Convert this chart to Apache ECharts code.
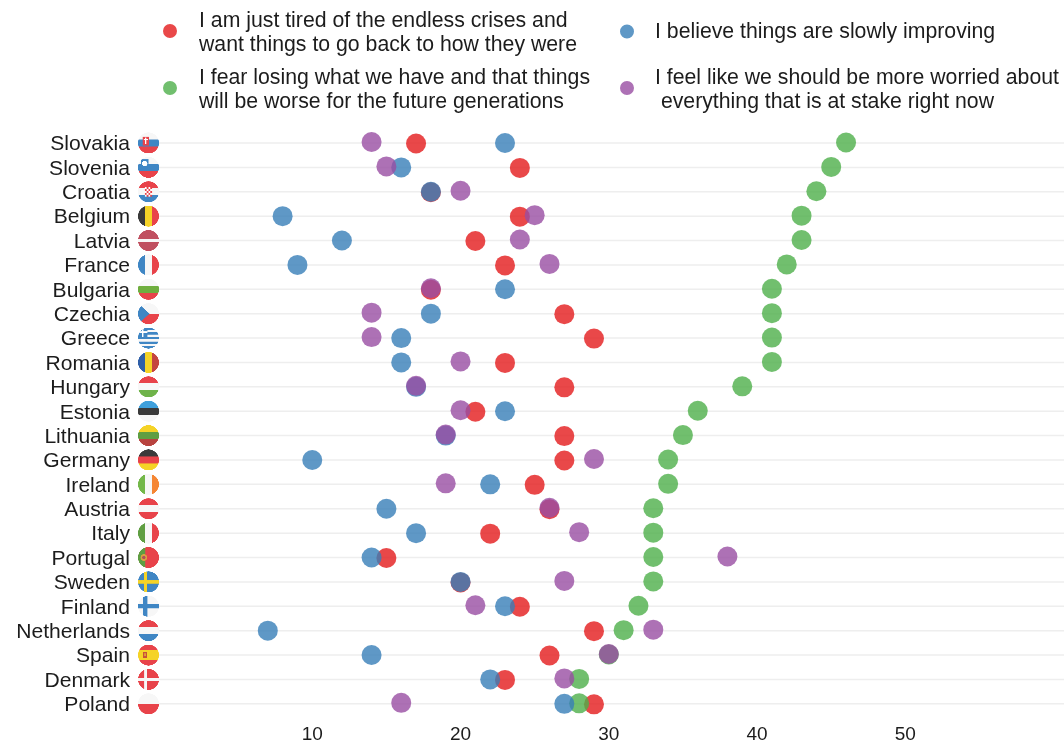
<!DOCTYPE html>
<html><head><meta charset="utf-8">
<style>html,body{margin:0;padding:0;background:#fff}#c{width:1064px;height:744px}</style>
<script src="https://cdn.jsdelivr.net/npm/echarts@6/dist/echarts.min.js"></script>
</head><body><div id="c"></div>
<script>
const countries = ['Slovakia','Slovenia','Croatia','Belgium','Latvia','France','Bulgaria','Czechia','Greece','Romania','Hungary','Estonia','Lithuania','Germany','Ireland','Austria','Italy','Portugal','Sweden','Finland','Netherlands','Spain','Denmark','Poland'];
const tired   = [17,24,18,24,21,23,18,27,29,23,27,21,27,27,25,26,22,15,20,24,29,26,23,29];
const improving=[23,16,18,8,12,9,23,18,16,16,17,23,19,10,22,15,17,14,20,23,7,14,22,27];
const fear    = [46,45,44,43,43,42,41,41,41,41,39,36,35,34,34,33,33,33,33,32,31,30,28,28];
const worried = [14,15,20,25,24,26,18,14,14,20,17,20,19,29,19,26,28,38,27,21,33,30,27,16];
const xTicks = [10,20,30,40,50];
const legendNames = [
 'I am just tired of the endless crises and\nwant things to go back to how they were',
 'I believe things are slowly improving',
 'I fear losing what we have and that things\nwill be worse for the future generations',
 'I feel like we should be more worried about\n everything that is at stake right now'
];
const RED='#e8434a',BLUE='#4a8fc6',GREEN='#55b84f',PURPLE='#a05bb0',WHITE='#f7f7f7',YEL='#f5d327',DARK='#3a3a3a',ORG='#f58634',DGREEN='#5f9e42',MAROON='#c05060',NAVY='#2f5fa8';
const h=(...c)=>(x,S)=>c.forEach((k,i)=>{x.fillStyle=k;x.fillRect(0,i*S/c.length,S,S/c.length+1)});
const v=(...c)=>(x,S)=>c.forEach((k,i)=>{x.fillStyle=k;x.fillRect(i*S/c.length,0,S/c.length+1,S)});
const flagPainters = {
 Slovakia:(x,S)=>{h(WHITE,'#3f86c4',RED)(x,S);x.fillStyle=RED;x.fillRect(S*.22,S*.2,S*.3,S*.42);x.fillStyle='#fff';x.fillRect(S*.34,S*.24,S*.06,S*.3);x.fillRect(S*.27,S*.32,S*.2,S*.05)},
 Slovenia:(x,S)=>{h(WHITE,'#3f86c4',RED)(x,S);x.fillStyle='#3f86c4';x.fillRect(S*.15,S*.12,S*.35,S*.35);x.fillStyle='#fff';x.beginPath();x.arc(S*.32,S*.32,S*.13,0,7);x.fill()},
 Croatia:(x,S)=>{h(RED,WHITE,'#3f86c4')(x,S);for(let i=0;i<4;i++)for(let j=0;j<5;j++){x.fillStyle=(i+j)%2?RED:'#fff';x.fillRect(S*(.32+i*.09),S*(.28+j*.09),S*.09,S*.09)}},
 Belgium:v(DARK,YEL,RED),
 Latvia:(x,S)=>{x.fillStyle=MAROON;x.fillRect(0,0,S,S);x.fillStyle=WHITE;x.fillRect(0,S*.44,S,S*.14)},
 France:v('#3f86c4',WHITE,RED),
 Bulgaria:h(WHITE,'#6fae3f',RED),
 Czechia:(x,S)=>{h(WHITE,RED)(x,S);x.fillStyle='#3f86c4';x.beginPath();x.moveTo(0,0);x.lineTo(S*.55,S*.5);x.lineTo(0,S);x.fill()},
 Greece:(x,S)=>{for(let i=0;i<9;i++){x.fillStyle=i%2?WHITE:'#3f86c4';x.fillRect(0,i*S/9,S,S/9+1)}x.fillStyle='#3f86c4';x.fillRect(0,0,S*.45,S*.45);x.fillStyle='#fff';x.fillRect(S*.18,0,S*.08,S*.45);x.fillRect(0,S*.18,S*.45,S*.08)},
 Romania:v(NAVY,YEL,'#c4453f'),
 Hungary:h(RED,WHITE,'#6fb34a'),
 Estonia:h('#3fa0dc',DARK,WHITE),
 Lithuania:h(YEL,DGREEN,'#b8433f'),
 Germany:h(DARK,RED,YEL),
 Ireland:v('#74b84a',WHITE,ORG),
 Austria:h(RED,WHITE,RED),
 Italy:v(DGREEN,WHITE,RED),
 Portugal:(x,S)=>{x.fillStyle=RED;x.fillRect(0,0,S,S);x.fillStyle=DGREEN;x.fillRect(0,0,S*.35,S);x.fillStyle='#d8a040';x.beginPath();x.arc(S*.28,S*.5,S*.16,0,7);x.fill();x.fillStyle='#b0505a';x.beginPath();x.arc(S*.28,S*.5,S*.08,0,7);x.fill()},
 Sweden:(x,S)=>{x.fillStyle='#3f86c4';x.fillRect(0,0,S,S);x.fillStyle=YEL;x.fillRect(S*.28,0,S*.16,S);x.fillRect(0,S*.42,S,S*.16)},
 Finland:(x,S)=>{x.fillStyle=WHITE;x.fillRect(0,0,S,S);x.fillStyle='#3f86c4';x.fillRect(S*.25,0,S*.2,S);x.fillRect(0,S*.4,S,S*.2)},
 Netherlands:h(RED,WHITE,'#3f86c4'),
 Spain:(x,S)=>{h(RED,YEL,YEL,RED)(x,S);x.fillStyle='#c8503a';x.fillRect(S*.24,S*.36,S*.2,S*.28);x.fillStyle='#e0a030';x.fillRect(S*.3,S*.42,S*.08,S*.14)},
 Denmark:(x,S)=>{x.fillStyle=RED;x.fillRect(0,0,S,S);x.fillStyle=WHITE;x.fillRect(S*.3,0,S*.13,S);x.fillRect(0,S*.44,S,S*.13)},
 Poland:h(WHITE,RED)
};
const flagCanvas = {};
countries.forEach(n=>{
 const S=84,cv=document.createElement('canvas');cv.width=cv.height=S;
 const x=cv.getContext('2d');x.beginPath();x.arc(S/2,S/2,S/2,0,7);x.clip();
 flagPainters[n](x,S);flagCanvas[n]=cv;
});
const FONT='"Liberation Sans",Arial,sans-serif';
const mk=(name,data,color,z,dy)=>({name,type:'scatter',data:data.map((d,i)=>[d,countries[i]]),symbolSize:20,symbolOffset:[0,dy],z,
  itemStyle:{color,opacity:0.8},emphasis:{disabled:true}});
const leg=(i,left,top,pt,pl,boxH)=>({data:[legendNames[i]],left,top,orient:'horizontal',
  icon:'path://M0,7a7,7 0 1,0 14,0a7,7 0 1,0 -14,0zM7,'+boxH+'L7.001,'+boxH+'z',
  itemWidth:14,itemHeight:boxH,itemStyle:{},selectedMode:false,padding:0,
  textStyle:{fontFamily:FONT,fontSize:21.25,lineHeight:24,color:'#1c1c1c',padding:[pt,0,0,pl]}});
const chart=echarts.init(document.getElementById('c'),null,{renderer:'canvas'});
chart.setOption({
 animation:false,backgroundColor:'#fff',
 legend:[leg(0,163,5,8,17,18),leg(1,620,18,5,16,16),leg(2,163,62,8,17,18),leg(3,620,62,8,16,18)],
 grid:{left:164,right:0,top:130.8,height:585.6,containLabel:false},
 xAxis:{type:'value',min:0,max:60.7,axisLine:{show:false},splitLine:{show:false},
   axisLabel:{customValues:xTicks,fontFamily:FONT,fontSize:19,color:'#1c1c1c',margin:9},axisTick:{show:false,customValues:xTicks}},
 yAxis:{type:'category',inverse:true,data:countries,axisLine:{show:false},axisTick:{show:false},
   axisLabel:{interval:0,fontFamily:FONT,fontSize:21.1,color:'#1c1c1c',margin:34,verticalAlign:'top',lineHeight:3},
   splitLine:{show:false}},
 series:[
  {type:'custom',z:1,silent:true,data:countries.map(c=>[0,c]),clip:false,legendHoverLink:false,
   renderItem:(p,api)=>{const pt=api.coord([0,api.value(1)]);const name=countries[p.dataIndex];
     const w=p.coordSys;
     return {type:'group',children:[
       {type:'rect',shape:{x:pt[0]-6,y:pt[1]-0.75,width:w.x+w.width-pt[0]+6,height:1.5},style:{fill:'#eeeeee'}},
       {type:'image',style:{image:flagCanvas[name],x:pt[0]-26,y:pt[1]-10.5,width:21,height:21}}
     ]};},
   encode:{x:0,y:1}},
  mk(legendNames[0],tired,'#e41a1c',2,0.5),
  mk(legendNames[2],fear,'#4daf4a',3,-0.5),
  mk(legendNames[1],improving,'#377eb8',4,0),
  mk(legendNames[3],worried,'#984ea3',5,-1)
 ]
});
</script></body></html>
